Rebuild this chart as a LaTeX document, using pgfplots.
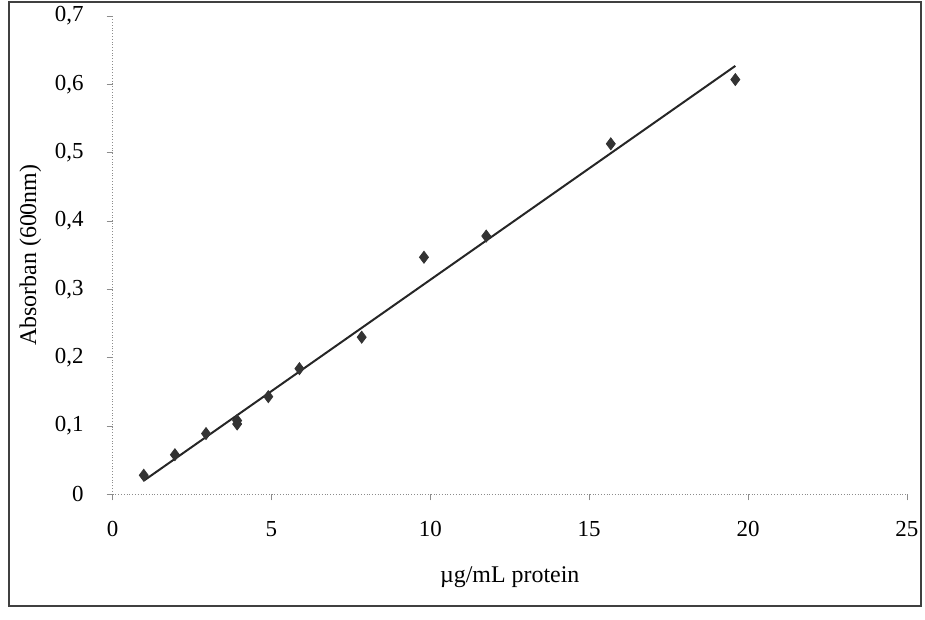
\documentclass[border=0pt]{standalone}
\usepackage{fontspec}
\setmainfont{Liberation Serif}
\usepackage{pgfplots}
\pgfplotsset{compat=1.18}
\usetikzlibrary{calc}

\begin{document}
\begin{tikzpicture}
\begin{axis}[
  name=ax, scale only axis,
  width=398.5pt, height=240pt,
  xmin=0, xmax=25, ymin=0, ymax=0.7,
  xtick={0,5,...,25}, ytick={0,0.1,...,0.7},
  axis lines=left, axis line style={draw=black!45, densely dotted, -},
  tick style={draw=black!45, thin}, major tick length=3pt,
  tick align=outside,
  /pgf/number format/use comma, /pgf/number format/fixed,
  /pgf/number format/assume math mode=true,
  yticklabel style={/pgf/number format/precision=1, xshift=-8pt},
  xticklabel style={yshift=-7pt},
  tick label style={font=\fontsize{11.5}{13}\selectfont},
  label style={font=\fontsize{12}{14}\selectfont},
  xlabel={µg/mL protein}, ylabel={Absorban (600nm)},
  xlabel style={yshift=-8pt}, ylabel style={yshift=0pt},
  clip=false,
]
% data points
\addplot[only marks, mark=diamond*, mark size=3pt, black!80] coordinates {
  (0.98,0.028) (1.96,0.058) (2.94,0.089) (3.92,0.103) (3.92,0.108)
  (4.90,0.143) (5.88,0.184) (7.84,0.230) (9.80,0.347) (11.76,0.378)
  (15.68,0.513) (19.60,0.607)};
% linear trend line
\addplot[black!85, line width=1pt] coordinates {(0.98,0.020) (19.60,0.627)};
\end{axis}
\draw[black!75, line width=1pt]
  ($(ax.south west)+(-52pt,-56pt)$) rectangle ($(ax.north east)+(7pt,7pt)$);
\path ($(ax.south west)+(-56.5pt,-63pt)$);
\end{tikzpicture}
\end{document}
